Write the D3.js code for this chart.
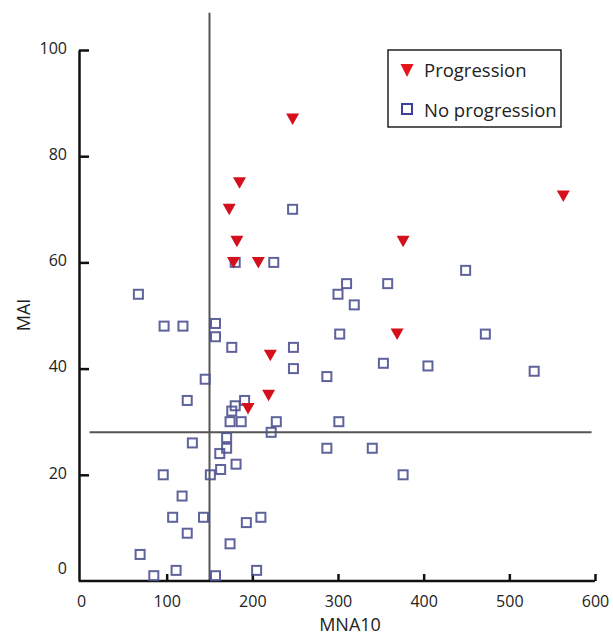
<!DOCTYPE html>
<html>
<head>
<meta charset="utf-8">
<script src="https://cdn.jsdelivr.net/npm/d3@7"></script>
<style>
  body { margin: 0; background: #fff; }
  svg text { font-family: 'Open Sans', sans-serif; fill: #222; }
</style>
</head>
<body>
<svg class="scatter" width="613" height="637"></svg>
<script>
// MNA10 vs MAI, two groups
const progression = [
  [247, 87], [185, 75], [173, 70], [182, 64], [178, 60], [207, 60],
  [221, 42.5], [219, 35], [195, 32.5], [376, 64], [369, 46.5], [563, 72.5]
];

const noProgression = [
  [247, 70], [225, 60], [180, 60], [67, 54], [97, 48], [119, 48],
  [157, 48.5], [157, 46], [176, 44], [145, 38], [124, 34], [248, 44],
  [248, 40], [191, 34], [180, 33], [176, 32], [174, 30], [187, 30],
  [228, 30], [222, 28], [130, 26], [170, 27], [170, 25], [162, 24],
  [181, 22], [163, 21], [151, 20], [96, 20], [118, 16], [107, 12],
  [143, 12], [193, 11], [210, 12], [124, 9], [174, 7], [69, 5],
  [85, 1], [111, 2], [157, 1], [205, 2], [449, 58.5], [310, 56],
  [358, 56], [300, 54], [319, 52], [302, 46.5], [472, 46.5], [287, 38.5],
  [353, 41], [405, 40.5], [529, 39.5], [301, 30], [287, 25], [340, 25],
  [376, 20]
];

const xTicks = [0, 100, 200, 300, 400, 500, 600];
const yTicks = [0, 20, 40, 60, 80, 100];

// cut-off lines: MNA10 = 150, MAI = 28
const cutX = {value: 150, from: 0, to: 107};
const cutY = {value: 28, from: 10, to: 596};

const legendItems = ["Progression", "No progression"];

const x = d3.scaleLinear().domain([0, 600]).range([81, 595]);
const y = d3.scaleLinear().domain([0, 100]).range([581, 50]);

const svg = d3.select('svg.scatter');

const triPath = "M-6.5,-5.5L6.5,-5.5L0,6Z";

// reference lines
svg.append('line')
  .attr('x1', x(cutX.value)).attr('x2', x(cutX.value))
  .attr('y1', y(cutX.from)).attr('y2', y(cutX.to))
  .style('stroke', '#555').style('stroke-width', 2);

svg.append('line')
  .attr('x1', x(cutY.from)).attr('x2', x(cutY.to))
  .attr('y1', y(cutY.value)).attr('y2', y(cutY.value))
  .style('stroke', '#555').style('stroke-width', 2);

// axes
const xAxis = d3.axisBottom(x)
  .tickValues(xTicks)
  .tickSize(-7)
  .tickSizeOuter(0)
  .tickPadding(15);

const yAxis = d3.axisLeft(y)
  .tickValues(yTicks)
  .tickSize(-10)
  .tickSizeOuter(0)
  .tickPadding(12);

const xG = svg.append('g')
  .attr('transform', `translate(0, ${y(0)})`)
  .call(xAxis);

const yG = svg.append('g')
  .attr('transform', `translate(${x(0) - 2}, 0)`)
  .call(yAxis);

[xG, yG].forEach(g => {
  g.select('.domain').style('stroke', '#111').style('stroke-width', 2.5);
  g.selectAll('.tick line').style('stroke', '#111').style('stroke-width', 2.5);
  g.selectAll('.tick text')
    .style('font-size', '16px')
    .style('fill', '#222');
});

xG.select('.domain').attr('d', `M${x(0) - 2},0H${x(600)}`);
xG.selectAll('.tick').filter(d => d === 0).select('line').remove();
yG.selectAll('.tick').filter(d => d === 0).select('line').remove();
yG.selectAll('.tick text').attr('dy', d => d === 0 ? '-0.5em' : '0.2em');

// axis titles
svg.append('text')
  .text('MNA10')
  .attr('x', 350)
  .attr('y', 631)
  .attr('text-anchor', 'middle')
  .style('font-size', '18px');

svg.append('text')
  .text('MAI')
  .attr('transform', 'translate(30, 315) rotate(-90)')
  .attr('text-anchor', 'middle')
  .style('font-size', '18px');

// no progression squares
svg.append('g')
  .selectAll('rect.noProg')
  .data(noProgression)
  .enter()
  .append('rect')
  .attr('class', 'noProg')
  .attr('x', d => x(d[0]) - 4.5)
  .attr('y', d => y(d[1]) - 4.5)
  .attr('width', 9)
  .attr('height', 9)
  .style('fill', 'none')
  .style('stroke', '#4d5290')
  .style('stroke-opacity', 0.9)
  .style('stroke-width', 2);

// progression triangles
svg.append('g')
  .selectAll('path.prog')
  .data(progression)
  .enter()
  .append('path')
  .attr('class', 'prog')
  .attr('d', triPath)
  .attr('transform', d => `translate(${x(d[0])}, ${y(d[1])})`)
  .style('fill', '#d4101c');

// legend
const legend = svg.append('g').attr('transform', 'translate(388, 50)');

legend.append('rect')
  .attr('width', 173)
  .attr('height', 77)
  .style('fill', '#fff')
  .style('stroke', '#222')
  .style('stroke-width', 1.5);

legend.append('path')
  .attr('d', "M-6.5,-6L6.5,-6L0,7Z")
  .attr('transform', 'translate(19, 20)')
  .style('fill', '#e8141c');

legend.append('rect')
  .attr('x', 14).attr('y', 54)
  .attr('width', 10).attr('height', 10)
  .style('fill', 'none')
  .style('stroke', '#3b3f9e')
  .style('stroke-width', 2);

legend.selectAll('text.legText')
  .data(legendItems)
  .enter()
  .append('text')
  .attr('class', 'legText')
  .text(d => d)
  .attr('x', 36)
  .attr('y', (d, i) => 27 + i * 40)
  .style('font-size', '18.5px');
</script>
</body>
</html>
